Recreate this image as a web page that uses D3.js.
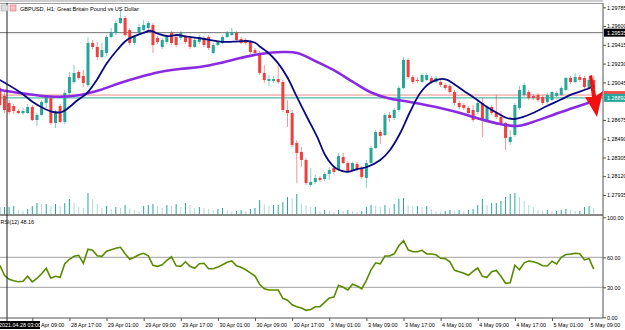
<!DOCTYPE html>
<html><head><meta charset="utf-8">
<script src="https://cdn.jsdelivr.net/npm/d3@7"></script>
<style>body{margin:0;background:#fff}svg{display:block}text{font-family:"Liberation Sans",Arial,sans-serif}</style>
</head><body><svg id="c" width="625" height="330"></svg>
<script>
const firstBar=-1;
const open=[1.28990,1.28911,1.28842,1.28812,1.28763,1.28743,1.28743,1.28802,1.28674,1.28724,1.28842,1.28891,1.28645,1.28812,1.28655,1.28940,1.29049,1.29147,1.29108,1.29019,1.29433,1.29394,1.29295,1.29335,1.29492,1.29532,1.29630,1.29680,1.29561,1.29433,1.29532,1.29561,1.29581,1.29611,1.29482,1.29394,1.29443,1.29532,1.29492,1.29482,1.29492,1.29482,1.29394,1.29443,1.29482,1.29492,1.29335,1.29413,1.29433,1.29492,1.29512,1.29532,1.29473,1.29463,1.29443,1.29364,1.29335,1.29138,1.29059,1.29059,1.29078,1.29049,1.28773,1.28743,1.28448,1.28359,1.28280,1.28034,1.28063,1.28103,1.28093,1.28142,1.28201,1.28181,1.28310,1.28250,1.28172,1.28241,1.28201,1.28103,1.28250,1.28398,1.28556,1.28526,1.28724,1.28694,1.28773,1.28990,1.29266,1.29098,1.29069,1.29049,1.29069,1.29088,1.29049,1.29049,1.29019,1.29009,1.28950,1.28842,1.28822,1.28793,1.28773,1.28753,1.28842,1.28674,1.28802,1.28743,1.28704,1.28645,1.28457,1.28526,1.28793,1.28921,1.28950,1.28911,1.28921,1.28901,1.28852,1.28871,1.28911,1.28921,1.28970,1.29088,1.29049,1.29098,1.29088,1.28990,1.29069];
const high=[1.29019,1.28950,1.28871,1.28832,1.28783,1.28793,1.28832,1.28822,1.28743,1.28871,1.28921,1.28911,1.28773,1.28832,1.28970,1.29147,1.29216,1.29167,1.29167,1.29492,1.29463,1.29443,1.29433,1.29512,1.29581,1.29660,1.29758,1.29699,1.29581,1.29512,1.29620,1.29660,1.29650,1.29630,1.29502,1.29482,1.29512,1.29551,1.29512,1.29551,1.29512,1.29502,1.29482,1.29512,1.29502,1.29512,1.29433,1.29463,1.29512,1.29551,1.29581,1.29551,1.29492,1.29482,1.29463,1.29384,1.29354,1.29216,1.29118,1.29108,1.29216,1.29069,1.28871,1.28773,1.28477,1.28408,1.28300,1.28201,1.28132,1.28122,1.28162,1.28211,1.28221,1.28349,1.28349,1.28270,1.28260,1.28260,1.28221,1.28280,1.28418,1.28576,1.28576,1.28743,1.28753,1.28793,1.29009,1.29295,1.29285,1.29118,1.29098,1.29138,1.29138,1.29108,1.29108,1.29069,1.29039,1.29029,1.28970,1.28862,1.28842,1.28812,1.28822,1.28871,1.28891,1.28822,1.28822,1.28921,1.28763,1.28655,1.28576,1.28842,1.29009,1.29039,1.28970,1.28931,1.28940,1.28921,1.28940,1.28960,1.28960,1.29009,1.29098,1.29108,1.29138,1.29118,1.29108,1.29088,1.29108];
const low=[1.28793,1.28743,1.28733,1.28733,1.28733,1.28724,1.28733,1.28664,1.28615,1.28714,1.28793,1.28625,1.28595,1.28645,1.28635,1.28921,1.29029,1.29069,1.29000,1.29000,1.29374,1.29266,1.29285,1.29305,1.29482,1.29512,1.29620,1.29492,1.29413,1.29413,1.29512,1.29551,1.29561,1.29335,1.29423,1.29374,1.29423,1.29413,1.29394,1.29463,1.29423,1.29374,1.29384,1.29423,1.29394,1.29364,1.29325,1.29404,1.29423,1.29482,1.29502,1.29453,1.29423,1.29413,1.29325,1.29315,1.29118,1.29039,1.29009,1.29039,1.29029,1.28753,1.28605,1.28408,1.28053,1.28211,1.28034,1.28014,1.28044,1.28063,1.28073,1.28083,1.28142,1.28172,1.28241,1.28152,1.28162,1.28172,1.28093,1.28004,1.28241,1.28388,1.28438,1.28517,1.28655,1.28674,1.28753,1.28980,1.29078,1.29029,1.29039,1.29039,1.29059,1.29029,1.29039,1.29000,1.28970,1.28931,1.28822,1.28783,1.28773,1.28724,1.28655,1.28733,1.28507,1.28655,1.28724,1.28684,1.28625,1.28379,1.28428,1.28507,1.28773,1.28901,1.28871,1.28871,1.28852,1.28822,1.28832,1.28862,1.28901,1.28911,1.28960,1.29029,1.29039,1.29049,1.28980,1.28970,1.28881];
const close=[1.28822,1.28773,1.28753,1.28763,1.28743,1.28763,1.28802,1.28674,1.28724,1.28852,1.28901,1.28645,1.28743,1.28655,1.28940,1.29098,1.29138,1.29088,1.29039,1.29433,1.29394,1.29295,1.29364,1.29492,1.29542,1.29630,1.29680,1.29512,1.29433,1.29492,1.29591,1.29611,1.29630,1.29413,1.29443,1.29463,1.29492,1.29433,1.29413,1.29532,1.29443,1.29394,1.29463,1.29492,1.29413,1.29384,1.29413,1.29443,1.29492,1.29532,1.29542,1.29463,1.29433,1.29433,1.29344,1.29335,1.29138,1.29069,1.29078,1.29078,1.29049,1.28773,1.28743,1.28428,1.28349,1.28280,1.28053,1.28063,1.28103,1.28083,1.28142,1.28181,1.28162,1.28319,1.28250,1.28162,1.28250,1.28181,1.28112,1.28250,1.28398,1.28556,1.28517,1.28724,1.28694,1.28773,1.28990,1.29266,1.29098,1.29049,1.29059,1.29118,1.29118,1.29049,1.29088,1.29019,1.28990,1.28950,1.28842,1.28802,1.28793,1.28743,1.28674,1.28842,1.28674,1.28802,1.28743,1.28704,1.28645,1.28497,1.28507,1.28822,1.28970,1.29019,1.28891,1.28891,1.28871,1.28842,1.28921,1.28950,1.28940,1.28990,1.29088,1.29049,1.29098,1.29069,1.29000,1.29069,1.28892];
const volume=[700,700,700,800,400,300,500,800,1100,1000,1000,800,1000,800,1100,1500,1100,700,600,2100,1500,1000,600,800,500,700,600,900,500,400,300,800,900,1000,800,600,900,800,1000,700,1100,900,600,700,600,500,400,500,600,400,300,300,400,300,500,600,1400,1000,800,900,900,1200,1700,1600,2000,1000,900,700,700,300,400,300,200,400,300,400,300,200,300,700,900,800,700,900,600,1000,1500,1600,900,800,800,700,800,500,300,200,300,400,300,400,300,400,500,900,1500,900,1100,1100,1300,1700,2000,2100,1700,1300,900,700,400,300,400,300,300,400,500,400,300,300,700,800,600];
const rsi=[52,42,38,36.5,35.5,36,41,35.5,39,43.5,49,39,41,40,53.5,58,61,62,54,68,67,61.5,61,66,67.5,69,70,63.5,58,60,62.5,64,61.5,52,51,52.5,57,60.5,51.5,51,55.5,51,49,53.5,54,48.5,48.5,50.3,52.5,55,56.3,51.5,50,47.5,44.5,41.3,33,28.5,27.3,27.3,27.3,19,17,12.5,10.6,9.3,7,7.8,10.5,10.6,15,19.3,20.3,32,30,27.3,33,31.3,28.5,37,47.5,54.5,53.5,61.3,61.3,63.5,71.5,76.6,67.5,65.6,65.6,67,63.3,63.3,62.5,59,58.7,55.5,47,45.6,44,42,46,49.3,41,40,45.5,46.8,41,34,34.6,52,47.5,54.5,56.2,55.5,54,51.5,51.3,56,53.3,60,62.8,63.2,64,63.5,57.5,58.7,48.16];
const fastIdx=[-1,3.3,6.1,8.3,10.5,12.4,13.5,15.8,17.8,19.9,22.1,24.3,26.4,29.9,31.4,32.9,35,37.2,39.3,42.1,46.5,49.3,52.3,54,55.1,56.6,58.7,60.9,63,65.2,67.4,69.1,70.6,71.7,73.8,76,78.1,81,83.1,85.3,87.4,89.6,91.7,93.9,95.4,97.5,99.7,101.9,104,106.2,108.3,110,111.8,113.9,116.9,119.7,122.5,125.6,127.1];
const fastMA=[1.29069,1.28950,1.28852,1.28793,1.28753,1.28753,1.28783,1.28871,1.28940,1.29069,1.29236,1.29364,1.29463,1.29532,1.29554,1.29529,1.29502,1.29512,1.29495,1.29480,1.29446,1.29446,1.29453,1.29436,1.29397,1.29347,1.29249,1.29101,1.28904,1.28704,1.28507,1.28329,1.28231,1.28191,1.28162,1.28191,1.28211,1.28280,1.28379,1.28546,1.28753,1.28940,1.29039,1.29078,1.29069,1.29009,1.28940,1.28871,1.28802,1.28743,1.28694,1.28684,1.28704,1.28743,1.28812,1.28871,1.28931,1.28980,1.29009];
const slowIdx=[-1,3.3,7.7,12,16.3,20.6,24.9,29.2,33.5,37.8,42.1,46.5,50.8,55.1,60,63.1,67.4,71.7,75.1,78.8,82.5,87.4,93.9,98.2,102.5,106.8,110.5,113.9,118.2,122.5,127.1];
const slowMA=[1.28970,1.28940,1.28914,1.28904,1.28921,1.28970,1.29039,1.29098,1.29147,1.29177,1.29197,1.29236,1.29285,1.29325,1.29344,1.29335,1.29246,1.29147,1.29049,1.28950,1.28891,1.28852,1.28793,1.28743,1.28684,1.28635,1.28615,1.28655,1.28724,1.28793,1.28862];
const priceTicks=[1.29785,1.29600,1.29415,1.29230,1.29045,1.28675,1.28490,1.28305,1.28120,1.27935];
const rsiTicks=[100,60,30,0];
const timeLabels=["28 Apr 09:00","28 Apr 17:00","29 Apr 01:00","29 Apr 09:00","29 Apr 17:00","30 Apr 01:00","30 Apr 09:00","30 Apr 17:00","3 May 01:00","3 May 09:00","3 May 17:00","4 May 01:00","4 May 09:00","4 May 17:00","5 May 01:00","5 May 09:00"];
const timeLabelBar=[6,14,22,30,38,46,54,62,70,78,86,94,102,110,118,126];
const hLine=1.29535, askPrice=1.28920, bidPrice=1.28892;

const svg=d3.select("#c");
const R=603, mainTop=3, mainBot=214, rsiTop=216, rsiBot=318;
const x=d3.scaleLinear().domain([6,126]).range([32.3,589.1]);
const y=d3.scaleLinear().domain([1.29785,1.27935]).range([7.3,195]);
const yr=d3.scaleLinear().domain([0,100]).range([317.3,217.3]);
const yv=d3.scaleLinear().domain([0,2400]).range([mainBot,190]);
const bull="#26a69a", bear="#ef4040";
const defs=svg.append("defs");
defs.append("clipPath").attr("id","cm").append("rect").attr("x",0).attr("y",mainTop).attr("width",R).attr("height",mainBot-mainTop);
defs.append("clipPath").attr("id","cr").append("rect").attr("x",0).attr("y",rsiTop).attr("width",R).attr("height",rsiBot-rsiTop);
const main=svg.append("g").attr("clip-path","url(#cm)");
const bars=close.map((c,k)=>({i:k+firstBar,o:open[k],h:high[k],l:low[k],c:c,v:volume[k],pv:k?volume[k-1]:0}));
svg.append("line").attr("x1",0).attr("x2",R).attr("y1",1).attr("y2",1).attr("stroke","#9a9a9a");
svg.append("line").attr("x1",0).attr("x2",R).attr("y1",3.5).attr("y2",3.5).attr("stroke","#9a9a9a");
main.append("line").attr("x1",0).attr("x2",R).attr("y1",y(hLine)).attr("y2",y(hLine)).attr("stroke","#707070");
main.selectAll(".v").data(bars).join("line").attr("x1",d=>x(d.i)).attr("x2",d=>x(d.i)).attr("y1",yv(0)).attr("y2",d=>yv(d.v)).attr("stroke",d=>d.v>=d.pv?bull:"#a8dcd5").attr("stroke-width",1);
main.append("line").attr("x1",0).attr("x2",R).attr("y1",y(askPrice)).attr("y2",y(askPrice)).attr("stroke","#f08a8a");
main.append("line").attr("x1",0).attr("x2",R).attr("y1",y(bidPrice)).attr("y2",y(bidPrice)).attr("stroke",bull);
const cg=main.selectAll(".cd").data(bars).join("g");
cg.append("line").attr("x1",d=>x(d.i)).attr("x2",d=>x(d.i)).attr("y1",d=>y(d.h)).attr("y2",d=>y(d.l)).attr("stroke",d=>d.c>=d.o?bull:bear).attr("stroke-opacity",0.55);
cg.append("rect").attr("x",d=>x(d.i)-1.5).attr("width",3).attr("y",d=>y(Math.max(d.o,d.c))).attr("height",d=>Math.max(1,Math.abs(y(d.o)-y(d.c)))).attr("fill",d=>d.c>=d.o?bull:bear);
const line=d3.line().x(d=>x(d[0])).y(d=>y(d[1])).curve(d3.curveCatmullRom);
main.append("path").attr("d",line(slowIdx.map((v,k)=>[v,slowMA[k]]))).attr("fill","none").attr("stroke","#8a2be2").attr("stroke-width",2.6);
main.append("path").attr("d",line(fastIdx.map((v,k)=>[v,fastMA[k]]))).attr("fill","none").attr("stroke","#0a0a80").attr("stroke-width",1.8);
svg.append("path").attr("d","M589,76 L592,75 L596,96 L603,91 L597,117 L585,97 L592,97 Z").attr("fill","#f01010");
svg.append("line").attr("x1",0).attr("x2",R).attr("y1",215).attr("y2",215).attr("stroke","#8a8a8a").attr("stroke-width",2);
const rg=svg.append("g").attr("clip-path","url(#cr)");
[60,30].forEach(v=>rg.append("line").attr("x1",0).attr("x2",R).attr("y1",yr(v)).attr("y2",yr(v)).attr("stroke","#a0a0a0"));
rg.append("path").attr("d",d3.line().x((d,k)=>x(k+firstBar)).y(d=>yr(d))(rsi)).attr("fill","none").attr("stroke","#5b8a00").attr("stroke-width",1.6);
svg.append("text").attr("x",0.5).attr("y",224).attr("font-size",5.4).attr("fill","#000").text("RSI(12) 48.16");
svg.append("line").attr("x1",7).attr("x2",7).attr("y1",3).attr("y2",321).attr("stroke","#222");
svg.append("line").attr("x1",R).attr("x2",R).attr("y1",3).attr("y2",rsiBot).attr("stroke","#555");
svg.append("line").attr("x1",0).attr("x2",R).attr("y1",rsiBot).attr("y2",rsiBot).attr("stroke","#555");
const pax=d3.axisRight(y).tickValues(priceTicks).tickSize(3).tickFormat(d3.format(".5f"));
const pg=svg.append("g").attr("transform",`translate(${R},0)`).call(pax);
const rax=d3.axisRight(yr).tickValues(rsiTicks).tickSize(3).tickFormat(d3.format(".2f"));
const rga=svg.append("g").attr("transform",`translate(${R},0)`).call(rax);
[pg,rga].forEach(g=>{g.select(".domain").remove();g.selectAll("line").attr("stroke","#555");g.selectAll("text").attr("font-size",5.4).attr("x",4).attr("fill","#000").attr("font-family","Liberation Sans");});
function pbox(p,bg,fg,label){const g=svg.append("g").attr("transform",`translate(${R+1},${y(p)})`);g.append("rect").attr("x",0).attr("y",-4).attr("width",22).attr("height",8).attr("fill",bg);if(label)g.append("text").attr("x",3).attr("y",2).attr("font-size",5.4).attr("fill",fg).text(d3.format(".5f")(p));}
pbox(hLine,"#000","#fff",true);
pbox(askPrice,"#f05050","#fff",false);
pbox(bidPrice,bull,"#fff",true);
const tax=d3.axisBottom(x).tickValues(timeLabelBar).tickSize(3).tickFormat((d,k)=>timeLabels[k]);
const tg=svg.append("g").attr("transform",`translate(0,${rsiBot})`).call(tax);
tg.select(".domain").remove();
tg.selectAll("line").attr("stroke","#555");
tg.selectAll("text").attr("font-size",5.4).attr("text-anchor","start").attr("dx",1).attr("y",5).attr("fill","#000").attr("font-family","Liberation Sans");
svg.append("rect").attr("x",-2).attr("y",321).attr("width",42).attr("height",8).attr("fill","#000");
svg.append("text").attr("x",-1).attr("y",327).attr("font-size",5.4).attr("fill","#fff").text("2021.04.28 03:00");
svg.append("rect").attr("x",1).attr("y",5).attr("width",7).attr("height",6).attr("fill","#ddd").attr("stroke","#999").attr("stroke-width",0.5);
svg.append("rect").attr("x",10).attr("y",5).attr("width",6).attr("height",6).attr("fill","#f3c0c0").attr("stroke","#d55").attr("stroke-width",0.5);
svg.append("text").attr("x",20).attr("y",11).attr("font-size",5.6).attr("fill","#000").text("GBPUSD, H1:  Great Britain Pound vs US Dollar");
</script></body></html>
